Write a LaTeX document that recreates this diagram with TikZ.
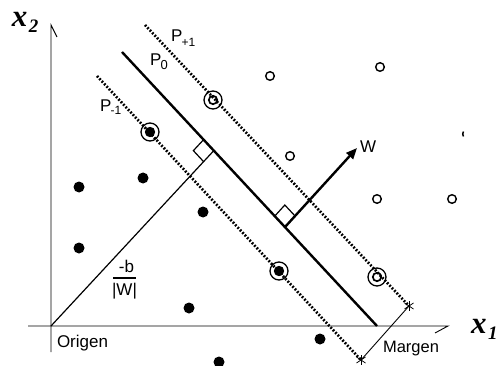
\documentclass[tikz,border=0pt]{standalone}
\usepackage{fontspec}
\setmainfont{Liberation Sans}
\newfontfamily\axisfont{Liberation Serif}
\usetikzlibrary{calc,arrows.meta}

\begin{document}
\begin{tikzpicture}[x=1pt,y=-1pt,
  every node/.style={inner sep=0pt,outer sep=0pt},
  lbl/.style={font=\fontsize{17}{17}\selectfont,anchor=base west},
  axlbl/.style={font=\axisfont\bfseries\itshape\fontsize{31}{31}\selectfont,anchor=base west},
  axisline/.style={line width=0.9pt},
  hyper/.style={line width=2.4pt},
  marginline/.style={line width=2.7pt,dash pattern=on 1.8pt off 1.7pt},
  thinline/.style={line width=1.2pt},
  negpt/.style={circle,fill=black,minimum size=11pt},
  pospt/.style={circle,draw=black,line width=1.4pt,minimum size=8.6pt},
  svneg/.style={circle,draw=black,line width=1.3pt,minimum size=18pt,
    path picture={\fill (path picture bounding box.center) circle (5.2pt);}},
  svpos/.style={circle,draw=black,line width=1.3pt,minimum size=18pt,
    path picture={\draw[line width=1.7pt] (path picture bounding box.center) circle (4.2pt);}},
  starmark/.style={line width=0.8pt},
]
\clip (0,0) rectangle (500,366);
\fill[white] (0,0) rectangle (500,366);

% axes
\coordinate (O) at (51,326);
\coordinate (xs) at (28,326);
\coordinate (xe) at (448,326);
\coordinate (ys) at (51,352);
\coordinate (ye) at (51,25);
\draw[axisline] (xs) -- (xe) -- ++(-13,7);
\draw[axisline] (ys) -- (ye) -- ++(6,12);
\node[axlbl] (x2) at (12,27) {x\kern1.5pt\raisebox{-6pt}{\fontsize{19}{19}\selectfont 2}};
\node[axlbl] (x1) at (471,333) {x\kern1.5pt\raisebox{-6pt}{\fontsize{19}{19}\selectfont 1}};

% separating hyperplane and margins
\coordinate (P0a) at (122,52);
\coordinate (P0b) at (377,326);
\coordinate (Ppa) at (145,25);
\coordinate (Pma) at (97,76);
\draw[hyper] (P0a) -- (P0b);

% margin width markers
\coordinate (Sp) at (409,306);
\coordinate (Sm) at (361,360);
\draw[marginline] (Ppa) -- (Sp);
\draw[marginline] (Pma) -- (Sm);
\draw[thinline,line width=0.9pt] (Sm) -- (Sp);
\foreach \s in {Sp,Sm}{
  \draw[starmark] ($(\s)+(0,-5)$) -- ($(\s)+(0,5)$);
  \draw[starmark] ($(\s)+(-4.5,-3)$) -- ($(\s)+(4.5,3)$);
  \draw[starmark] ($(\s)+(-4.5,3)$) -- ($(\s)+(4.5,-3)$);
}

% normal from the origin and the normal vector W
\coordinate (A) at ($(P0a)!0.36!(P0b)$);
\coordinate (B) at ($(P0a)!0.639!(P0b)$);
\coordinate (Wt) at (357,148);
\draw[thinline] (O) -- (A);
\draw[hyper,-{Triangle[length=11pt,width=9pt]}] (B) -- (Wt);

% right-angle marks
\coordinate (a1) at ($(A)!15pt!(P0a)$);
\coordinate (a2) at ($(A)!15pt!(O)$);
\draw[thinline] (a1) -- ($(a1)+(a2)-(A)$) -- (a2);
\coordinate (b1) at ($(B)!15pt!(P0a)$);
\coordinate (b2) at ($(B)!15pt!(Wt)$);
\draw[thinline] (b1) -- ($(b1)+(b2)-(B)$) -- (b2);

% positive class
\node[pospt] (p1) at (270,76) {};
\node[pospt] (p2) at (380,67) {};
\node[pospt] (p3) at (290,156) {};
\node[pospt] (p4) at (377,199) {};
\node[pospt] (p5) at (452,199) {};
\draw[line width=1.5pt] ([shift={(467,134)}]145:4.3) arc[start angle=145,end angle=215,radius=4.3];

% negative class
\node[negpt] (n1) at (79,187) {};
\node[negpt] (n2) at (143,178) {};
\node[negpt] (n3) at (203,212) {};
\node[negpt] (n4) at (79,248) {};
\node[negpt] (n5) at (189,308) {};
\node[negpt] (n6) at (219,362) {};
\node[negpt] (n7) at (320,339) {};

% support vectors
\node[svneg] (sv1) at (150,132) {};
\node[svneg] (sv2) at (279,271) {};
\node[svpos] (sv3) at (213,100) {};
\node[svpos] (sv4) at (377,277) {};

% labels
\node[lbl] (lp) at (171,42) {P\kern-0.8pt\raisebox{-5pt}{\fontsize{12}{12}\selectfont +1}};
\node[lbl] (l0) at (150,66) {P\kern-0.8pt\raisebox{-4pt}{\fontsize{13}{13}\selectfont 0}};
\node[lbl] (lm) at (100,112) {P\kern-0.8pt\raisebox{-3pt}{\fontsize{12}{12}\selectfont -1}};
\node[lbl] (lw) at (360,153) {W};
\node[lbl] (lo) at (57,347) {Origen};
\node[lbl,font=\fontsize{16.5}{16.5}\selectfont] (lmg) at (383,352) {Margen};
\node[lbl,anchor=base] (num) at (126.5,272) {-b};
\node[lbl,anchor=base] (den) at (124.5,295) {|W|};
\coordinate (barL) at (113,278);
\coordinate (barR) at (136,278);
\draw[line width=1.4pt] (barL) -- (barR);
\end{tikzpicture}
\end{document}
